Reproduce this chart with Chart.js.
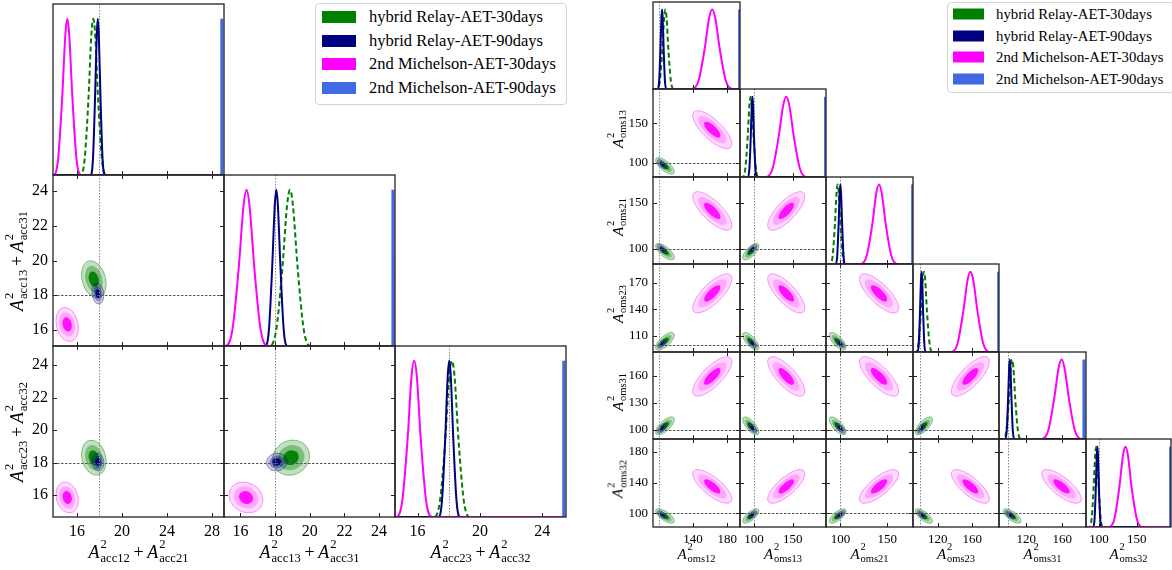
<!DOCTYPE html>
<html>
<head>
<meta charset="utf-8">
<script src="https://cdn.jsdelivr.net/npm/chart.js@4.4.1/dist/chart.umd.min.js"></script>
<style>
  html, body { margin: 0; padding: 0; background: #fff; width: 1172px; height: 570px; overflow: hidden; position: relative;
    font-family: 'Liberation Serif', Tinos, 'Times New Roman', Times, serif; }
  canvas.pn { position: absolute; }
  .lab { position: absolute; white-space: nowrap; line-height: 1; color: #000; transform: translate(-50%, -50%); z-index: 5; }
  .lab.rot { transform: translate(-50%, -50%) rotate(-90deg); }
  .lab i { font-style: italic; }
  .ss { display: inline-flex; flex-direction: column; align-items: flex-start; font-size: .7em; line-height: 1.1; vertical-align: .8em; margin-left: 1px; }
  .pl { margin: 0 .2em; }
  .legend { position: absolute; border: 1px solid #d4d4d4; border-radius: 4px; background: #fff; z-index: 6; }
  .legend .it { position: absolute; white-space: nowrap; color: #000; line-height: 1; transform: translateY(-50%); }
  .legend .sw { position: absolute; transform: translateY(-50%); }
</style>
</head>
<body>
<script>
/* =================================================================
   Corner plots — hybrid Relay vs 2nd Michelson (AET, 30/90 days)
   Left: acceleration noise sums, right: OMS noise amplitudes.
================================================================= */

const SERIF = "'Liberation Serif', Tinos, 'Times New Roman', Times, serif";

const SERIES = ['hybrid Relay-AET-30days', 'hybrid Relay-AET-90days', '2nd Michelson-AET-30days', '2nd Michelson-AET-90days'];
const COLORS = ['#008000', '#000080', '#ff00ff', '#4169e1'];

// heights (fraction of peak) at which the 1-D curve x positions were read
const PEAK_H  = [0, 0.1, 0.5, 0.9, 1, 0.9, 0.5, 0.1, 0];
const SPIKE_H = [0, 1, 0];

// ── Left corner: acc ────────────────────────────

const L_PARAMS  = [['acc12', 'acc21'], ['acc13', 'acc31'], ['acc23', 'acc32']];
const L_TRUTH   = 18;
const L_RANGE_X = [[13.87, 29.07], [15.05, 24.92], [14.55, 25.52]];
const L_RANGE_Y = [null, [15.08, 24.92], [14.65, 25.17]];
const L_TICKS_X = [[16, 20, 24, 28], [16, 18, 20, 22, 24], [16, 20, 24]];
const L_TICKS_Y = [null, [16, 18, 20, 22, 24], [16, 18, 20, 22, 24]];

const L_DIAG_GREEN = [
  [16.30, 16.68, 17.03, 17.28, 17.45, 17.62, 17.87, 18.22, 18.60],
  [17.68, 18.06, 18.42, 18.69, 18.86, 19.03, 19.30, 19.66, 20.04],
  [17.05, 17.43, 17.78, 18.03, 18.20, 18.37, 18.62, 18.97, 19.35],
];
const L_DIAG_NAVY = [
  [17.21, 17.42, 17.61, 17.76, 17.85, 17.94, 18.09, 18.28, 18.49],
  [17.43, 17.64, 17.83, 17.98, 18.07, 18.16, 18.31, 18.50, 18.71],
  [17.33, 17.56, 17.77, 17.93, 18.03, 18.13, 18.29, 18.50, 18.73],
];
const L_DIAG_MAGENTA = [
  [13.92, 14.32, 14.69, 14.97, 15.14, 15.31, 15.59, 15.96, 16.36],
  [15.13, 15.53, 15.90, 16.18, 16.35, 16.52, 16.80, 17.17, 17.57],
  [14.63, 15.01, 15.36, 15.61, 15.78, 15.95, 16.20, 16.55, 16.93],
];
const L_SPIKE_BLUE = [[28.83, 28.86, 28.89], [24.77, 24.80, 24.83], [25.33, 25.36, 25.39]];

// 2-D contours: centre, outer half-width per parameter, correlation per pair
const L_MEAN_GREEN   = [17.50, 18.92, 18.30];
const L_EXT_GREEN    = [1.10, 1.07, 1.08];
const L_MEAN_NAVY    = [17.86, 18.10, 18.03];
const L_EXT_NAVY     = [0.53, 0.60, 0.55];
const L_MEAN_MAGENTA = [15.13, 16.32, 15.85];
const L_EXT_MAGENTA  = [1.00, 0.98, 0.95];
const L_RHO_GREEN    = [[], [-0.25], [-0.2, 0.1]];
const L_RHO_NAVY     = [[], [-0.15], [-0.1, 0.05]];
const L_RHO_MAGENTA  = [[], [-0.2], [-0.2, -0.15]];

// ── Right corner: oms ───────────────────────────

const R_PARAMS  = [['oms12'], ['oms13'], ['oms21'], ['oms23'], ['oms31'], ['oms32']];
const R_TRUTH   = 100;
const R_RANGE_X = [[93, 195], [82, 193], [84.5, 177.7], [91.5, 191], [89.7, 186.5], [83, 195]];
const R_RANGE_Y = [null, [82, 193], [83.6, 178.2], [92, 191], [89.7, 186.5], [82, 197]];
const R_TICKS_X = [[140, 180], [100, 150], [100, 150], [120, 160], [120, 160], [100, 150]];
const R_TICKS_Y = [null, [100, 150], [100, 150], [110, 140, 170], [100, 130, 160], [100, 140, 180]];

const R_DIAG_GREEN = [
  [97.9, 101, 104, 106.1, 107.5, 108.9, 111, 114, 117.1],
  [85.5, 88.8, 91.9, 94.2, 95.7, 97.2, 99.5, 102.6, 105.9],
  [89, 91.6, 94.05, 95.85, 97, 98.15, 99.95, 102.4, 105],
  [94.6, 97.7, 100.7, 102.8, 104.2, 105.6, 107.7, 110.7, 113.8],
  [94.7, 97.8, 100.8, 102.9, 104.3, 105.7, 107.8, 110.8, 113.9],
  [87.4, 90.4, 93.1, 95.1, 96.4, 97.7, 99.7, 102.4, 105.4],
];
const R_DIAG_NAVY = [
  [98.5, 100.2, 101.7, 102.9, 103.6, 104.3, 105.5, 107, 108.7],
  [92.2, 94.1, 95.9, 97.2, 98, 98.8, 100.1, 101.9, 103.8],
  [94.8, 96.5, 98, 99.2, 99.9, 100.6, 101.8, 103.3, 105],
  [96.6, 98.2, 99.6, 100.7, 101.4, 102.1, 103.2, 104.6, 106.2],
  [96.6, 98.3, 99.8, 101, 101.7, 102.4, 103.6, 105.1, 106.8],
  [92.6, 94.3, 96, 97.2, 98, 98.8, 100, 101.7, 103.4],
];
const R_DIAG_MAGENTA = [
  [138.4, 146.3, 153.5, 158.9, 162.4, 165.9, 171.3, 178.5, 186.4],
  [115.1, 123.9, 131.9, 137.9, 141.7, 145.5, 151.5, 159.5, 168.3],
  [121.5, 128, 134.1, 138.5, 141.3, 144.1, 148.5, 154.6, 161.1],
  [135.5, 142.9, 149.6, 154.7, 157.9, 161.1, 166.2, 172.9, 180.3],
  [136.9, 144.3, 151, 156.1, 159.3, 162.5, 167.6, 174.3, 181.7],
  [113.2, 120.4, 127, 131.9, 135, 138.1, 143, 150, 156.8],
];
const R_SPIKE_BLUE = [[194.1, 194.4, 194.7], [192.0, 192.3, 192.6], [177.0, 177.2, 177.4],
                      [190.2, 190.5, 190.8], [183.9, 184.2, 184.5], [194.1, 194.4, 194.7]];

const R_MEAN_GREEN   = [107, 96, 97, 104, 104.3, 96.4];
const R_EXT_GREEN    = [11, 10.5, 9, 10, 10, 9.5];
const R_MEAN_NAVY    = [103.6, 98, 99.9, 101.4, 101.7, 98];
const R_EXT_NAVY     = [5.5, 6, 5, 5, 5.5, 5.5];
const R_MEAN_MAGENTA = [162.5, 141.7, 141.3, 157.9, 159.3, 135];
const R_EXT_MAGENTA  = [23, 24, 21, 22, 22, 22];
const R_RHO_GREEN    = [[], [-0.7], [-0.7, 0.7], [0.7, -0.7, -0.7], [0.7, -0.7, -0.7, 0.7], [-0.7, 0.7, 0.7, -0.7, -0.7]];
const R_RHO_NAVY     = [[], [-0.65], [-0.65, 0.65], [0.65, -0.65, -0.65], [0.65, -0.65, -0.65, 0.65], [-0.65, 0.65, 0.65, -0.65, -0.65]];
const R_RHO_MAGENTA  = [[], [-0.75], [-0.75, 0.75], [0.75, -0.75, -0.75], [0.75, -0.75, -0.75, 0.75], [-0.75, 0.75, 0.75, -0.75, -0.75]];

// ── Layout / style ──────────────────────────────

const L_EDGE_X = [53, 224, 395, 566];
const L_EDGE_Y = [4, 175, 346, 517];
const R_EDGE_X = [653, 740, 826, 913, 999, 1086, 1171];
const R_EDGE_Y = [2, 89, 177, 264, 352, 439, 527];

const DIAG_MAX = 1.095;
const MARGIN   = 6;
const TICK     = 4;
const LEVELS   = [1, 0.72, 0.42];

const STYLE = {
  green:   { fills: ['rgba(0,128,0,0.24)', 'rgba(0,128,0,0.36)', 'rgba(0,128,0,0.95)'], edge: 'rgba(0,128,0,0.55)' },
  navy:    { fills: ['rgba(0,0,128,0.20)', 'rgba(0,0,128,0.36)', 'rgba(0,0,128,0.95)'], edge: 'rgba(0,0,128,0.5)' },
  magenta: { fills: ['rgba(255,0,255,0.15)', 'rgba(255,0,255,0.24)', 'rgba(255,0,255,0.9)'], edge: 'rgba(255,0,255,0.5)' },
};

// ── Drawing helpers ─────────────────────────────

function drawContour(ctx, sx, sy, c) {
  const px = sx.getPixelForValue(c.cx), py = sy.getPixelForValue(c.cy);
  const ex = Math.abs(sx.getPixelForValue(c.cx + c.ex) - px);
  const ey = Math.abs(sy.getPixelForValue(c.cy + c.ey) - py);
  const sxx = ex * ex, syy = ey * ey, sxy = -c.rho * ex * ey; // canvas y points down
  const tr = (sxx + syy) / 2, df = Math.sqrt(((sxx - syy) / 2) ** 2 + sxy * sxy);
  const r1 = Math.sqrt(tr + df), r2 = Math.sqrt(Math.max(tr - df, 0.01));
  const th = 0.5 * Math.atan2(2 * sxy, sxx - syy);
  LEVELS.forEach((k, i) => {
    ctx.beginPath();
    ctx.ellipse(px, py, r1 * k, r2 * k, th, 0, Math.PI * 2);
    ctx.fillStyle = c.st.fills[i];
    ctx.fill();
    if (i === 0) { ctx.strokeStyle = c.st.edge; ctx.lineWidth = 0.8; ctx.stroke(); }
  });
}

function drawTruth(ctx, a, sx, sy, truth, diag) {
  ctx.save();
  ctx.lineWidth = 1;
  const vx = Math.round(sx.getPixelForValue(truth)) + 0.5;
  ctx.strokeStyle = '#8a8a8a';
  ctx.setLineDash([1.5, 1.5]);
  ctx.beginPath(); ctx.moveTo(vx, a.top); ctx.lineTo(vx, a.bottom); ctx.stroke();
  if (!diag) {
    const hy = Math.round(sy.getPixelForValue(truth)) + 0.5;
    ctx.strokeStyle = '#555';
    ctx.setLineDash([2.5, 1.5]);
    ctx.beginPath(); ctx.moveTo(a.left, hy); ctx.lineTo(a.right, hy); ctx.stroke();
  }
  ctx.restore();
}

function drawFrame(ctx, a, sx, sy, p) {
  ctx.save();
  ctx.strokeStyle = '#222';
  ctx.lineWidth = 1;
  ctx.beginPath();
  p.xt.forEach((v) => {
    const x = Math.round(sx.getPixelForValue(v)) + 0.5;
    ctx.moveTo(x, a.bottom); ctx.lineTo(x, a.bottom - TICK);
    if (!p.diag) { ctx.moveTo(x, a.top); ctx.lineTo(x, a.top + TICK); }
  });
  p.yt.forEach((v) => {
    const y = Math.round(sy.getPixelForValue(v)) + 0.5;
    ctx.moveTo(a.left, y); ctx.lineTo(a.left + TICK, y);
    ctx.moveTo(a.right, y); ctx.lineTo(a.right - TICK, y);
  });
  ctx.stroke();
  ctx.lineWidth = 1.3;
  ctx.strokeRect(a.left, a.top, a.right - a.left, a.bottom - a.top);
  ctx.restore();
}

function curve(xs, hs, range) {
  const pts = xs.map((x, k) => ({ x, y: hs[k] }));
  return range ? [{ x: range[0], y: 0 }, ...pts, { x: range[1], y: 0 }] : pts;
}

// ── One panel = one chart ───────────────────────

function addPanel(p) {
  const left = p.showY ? p.padL : MARGIN;
  const bottom = p.showX ? p.padB : MARGIN;
  const cv = document.createElement('canvas');
  cv.className = 'pn';
  cv.width = p.x1 - p.x0 + left + MARGIN;
  cv.height = p.y1 - p.y0 + MARGIN + bottom;
  cv.style.left = (p.x0 - left) + 'px';
  cv.style.top = (p.y0 - MARGIN) + 'px';
  cv.style.width = cv.width + 'px';
  cv.style.height = cv.height + 'px';
  document.body.appendChild(cv);

  const font = { family: SERIF, size: p.fontPx };
  new Chart(cv, {
    type: 'line',
    data: { datasets: p.datasets || [] },
    options: {
      responsive: false, animation: false, devicePixelRatio: 1,
      layout: { autoPadding: false, padding: { left: p.showY ? 0 : MARGIN, right: MARGIN, top: MARGIN, bottom: p.showX ? 0 : MARGIN } },
      plugins: { legend: { display: false }, tooltip: { enabled: false } },
      elements: { point: { radius: 0, hoverRadius: 0 } },
      scales: {
        x: {
          type: 'linear', min: p.xr[0], max: p.xr[1], display: p.showX,
          grid: { display: false, drawTicks: false }, border: { display: false },
          ticks: { font, color: '#000', padding: 5, autoSkip: false, maxRotation: 0, minRotation: 0, callback: (v) => String(v) },
          afterBuildTicks: (s) => { s.ticks = p.xt.map((v) => ({ value: v })); },
          afterFit: (s) => { s.height = p.showX ? bottom : 0; s.paddingLeft = 0; s.paddingRight = 0; },
        },
        y: {
          type: 'linear', min: p.yr[0], max: p.yr[1], display: p.showY,
          grid: { display: false, drawTicks: false }, border: { display: false },
          ticks: { font, color: '#000', padding: 5, autoSkip: false, callback: (v) => String(v) },
          afterBuildTicks: (s) => { s.ticks = p.yt.map((v) => ({ value: v })); },
          afterFit: (s) => { s.width = p.showY ? left : 0; s.paddingTop = 0; s.paddingBottom = 0; },
        },
      },
    },
    plugins: [{
      id: 'corner',
      beforeDatasetsDraw(chart) {
        const { ctx, chartArea: a, scales: { x, y } } = chart;
        ctx.save();
        ctx.beginPath(); ctx.rect(a.left, a.top, a.right - a.left, a.bottom - a.top); ctx.clip();
        (p.contours || []).forEach((c) => drawContour(ctx, x, y, c));
        ctx.restore();
        drawTruth(ctx, a, x, y, p.truth, p.diag);
      },
      afterDatasetsDraw(chart) {
        const { ctx, chartArea: a, scales: { x, y } } = chart;
        drawFrame(ctx, a, x, y, p);
      },
    }],
  });
}

function diagDatasets(c, k) {
  const r = c.rangeX[k];
  const base = { fill: false, pointRadius: 0, cubicInterpolationMode: 'monotone' };
  // listed top-most first: Chart.js paints the last dataset first
  return [
    { ...base, data: curve(c.spike[k], SPIKE_H, null), borderColor: COLORS[3], borderWidth: 3, tension: 0, cubicInterpolationMode: 'default' },
    { ...base, data: curve(c.diag.magenta[k], PEAK_H, r), borderColor: COLORS[2], borderWidth: 2 },
    { ...base, data: curve(c.diag.navy[k], PEAK_H, r), borderColor: COLORS[1], borderWidth: 2 },
    { ...base, data: curve(c.diag.green[k], PEAK_H, r), borderColor: COLORS[0], borderWidth: 2, borderDash: [5, 3] },
  ];
}

function buildCorner(c) {
  const n = c.edgeX.length - 1;
  for (let i = 0; i < n; i++) {
    for (let j = 0; j <= i; j++) {
      const diag = i === j;
      const p = {
        x0: c.edgeX[j], x1: c.edgeX[j + 1], y0: c.edgeY[i], y1: c.edgeY[i + 1],
        xr: c.rangeX[j], yr: diag ? [0, DIAG_MAX] : c.rangeY[i],
        xt: c.ticksX[j], yt: diag ? [] : c.ticksY[i],
        showX: i === n - 1, showY: j === 0 && !diag,
        padL: c.padL, padB: c.padB, fontPx: c.fontPx, diag, truth: c.truth,
      };
      if (diag) {
        p.datasets = diagDatasets(c, j);
      } else {
        p.contours = ['green', 'navy', 'magenta'].map((s) => ({
          cx: c.mean[s][j], cy: c.mean[s][i], ex: c.ext[s][j], ey: c.ext[s][i],
          rho: c.rho[s][i][j], st: STYLE[s],
        }));
      }
      addPanel(p);
    }
  }
}

// ── Axis titles & legends (HTML text) ─────────────

function mathLabel(parts) {
  return parts.map((s) => `<i>A</i><span class="ss"><span>2</span><span>${s}</span></span>`).join('<span class="pl">+</span>');
}

function addLabel(parts, x, y, size, rotated) {
  const d = document.createElement('div');
  d.className = 'lab' + (rotated ? ' rot' : '');
  d.style.left = x + 'px';
  d.style.top = y + 'px';
  d.style.fontSize = size + 'px';
  d.innerHTML = mathLabel(parts);
  document.body.appendChild(d);
}

function addLegend(box, firstY, gap, sw, textX, fontPx) {
  const lg = document.createElement('div');
  lg.className = 'legend';
  Object.assign(lg.style, { left: box[0] + 'px', top: box[1] + 'px', width: box[2] + 'px', height: box[3] + 'px' });
  SERIES.forEach((name, k) => {
    const y = firstY + k * gap;
    const s = document.createElement('div');
    s.className = 'sw';
    Object.assign(s.style, { left: sw[0] + 'px', top: y + 'px', width: sw[1] + 'px', height: sw[2] + 'px', background: COLORS[k] });
    const t = document.createElement('div');
    t.className = 'it';
    Object.assign(t.style, { left: textX + 'px', top: y + 'px', fontSize: fontPx + 'px' });
    t.textContent = name;
    lg.appendChild(s);
    lg.appendChild(t);
  });
  document.body.appendChild(lg);
}

// ── Main ──────────────────────────────────────────

buildCorner({
  edgeX: L_EDGE_X, edgeY: L_EDGE_Y, rangeX: L_RANGE_X, rangeY: L_RANGE_Y,
  ticksX: L_TICKS_X, ticksY: L_TICKS_Y, truth: L_TRUTH, padL: 45, padB: 28, fontPx: 16,
  diag: { green: L_DIAG_GREEN, navy: L_DIAG_NAVY, magenta: L_DIAG_MAGENTA }, spike: L_SPIKE_BLUE,
  mean: { green: L_MEAN_GREEN, navy: L_MEAN_NAVY, magenta: L_MEAN_MAGENTA },
  ext: { green: L_EXT_GREEN, navy: L_EXT_NAVY, magenta: L_EXT_MAGENTA },
  rho: { green: L_RHO_GREEN, navy: L_RHO_NAVY, magenta: L_RHO_MAGENTA },
});

buildCorner({
  edgeX: R_EDGE_X, edgeY: R_EDGE_Y, rangeX: R_RANGE_X, rangeY: R_RANGE_Y,
  ticksX: R_TICKS_X, ticksY: R_TICKS_Y, truth: R_TRUTH, padL: 40, padB: 28, fontPx: 13,
  diag: { green: R_DIAG_GREEN, navy: R_DIAG_NAVY, magenta: R_DIAG_MAGENTA }, spike: R_SPIKE_BLUE,
  mean: { green: R_MEAN_GREEN, navy: R_MEAN_NAVY, magenta: R_MEAN_MAGENTA },
  ext: { green: R_EXT_GREEN, navy: R_EXT_NAVY, magenta: R_EXT_MAGENTA },
  rho: { green: R_RHO_GREEN, navy: R_RHO_NAVY, magenta: R_RHO_MAGENTA },
});

L_PARAMS.forEach((parts, k) => {
  addLabel(parts, (L_EDGE_X[k] + L_EDGE_X[k + 1]) / 2, 552, 18, false);
  if (k > 0) addLabel(parts, 17, (L_EDGE_Y[k] + L_EDGE_Y[k + 1]) / 2, 18, true);
});
R_PARAMS.forEach((parts, k) => {
  addLabel(parts, (R_EDGE_X[k] + R_EDGE_X[k + 1]) / 2, 553, 15, false);
  if (k > 0) addLabel(parts, 617, (R_EDGE_Y[k] + R_EDGE_Y[k + 1]) / 2 - 4, 15, true);
});

addLegend([315, 3, 250, 100], 13, 23.7, [6, 34, 12], 53, 16.5);
addLegend([947, 2, 225, 89], 11.3, 21.4, [5, 31, 11], 48, 14.8);
</script>
</body>
</html>
